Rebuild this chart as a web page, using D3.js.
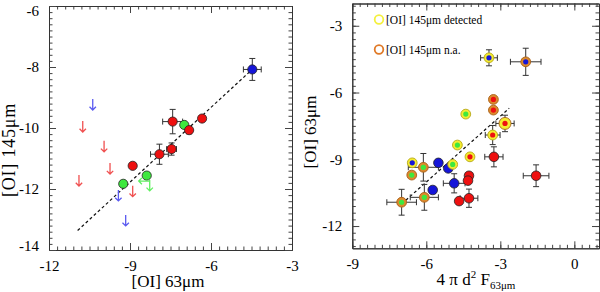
<!DOCTYPE html>
<html>
<head>
<meta charset="utf-8">
<script src="https://cdn.jsdelivr.net/npm/d3@7"></script>
<style>
  body { margin: 0; background: #fff; }
  svg { display: block; font-family: "Liberation Serif", "Times New Roman", serif; }
</style>
</head>
<body>
<svg id="chart" width="600" height="292"></svg>
<script>
// ---- data: left panel ([OI] 145um vs [OI] 63um)
var leftDetections = [
  { x: -9.25, y: -11.83, c: 'green' },
  { x: -8.38, y: -11.56, c: 'green' },
  { x: -6.99, y: -9.90,  c: 'green' },
  { x: -8.90, y: -11.24, c: 'red' },
  { x: -7.91, y: -10.86, ex: 0.33, ey: 0.33, c: 'red' },
  { x: -7.46, y: -10.69, ex: 0.18, ey: 0.20, c: 'red' },
  { x: -7.42, y: -9.79,  ex: 0.37, ey: 0.40, c: 'red' },
  { x: -6.81, y: -10.07, ex: 0,    ey: 0.12, c: 'red' },
  { x: -6.33, y: -9.69,  c: 'red' },
  { x: -4.47, y: -8.08,  ex: 0.33, ey: 0.36, c: 'blue' }
];
// upper limits (arrow top = value)
var leftLimits = [
  { x: -10.38, y: -9.05,  c: 'blue',  dir: 'down' },
  { x: -10.75, y: -9.77,  c: 'red',   dir: 'down' },
  { x: -9.96,  y: -10.42, c: 'red',   dir: 'down' },
  { x: -9.74,  y: -11.15, c: 'red',   dir: 'down' },
  { x: -10.89, y: -11.54, c: 'red',   dir: 'down' },
  { x: -8.90,  y: -11.89, c: 'red',   dir: 'down' },
  { x: -9.43,  y: -12.03, c: 'blue',  dir: 'down' },
  { x: -9.16,  y: -12.85, c: 'blue',  dir: 'down' },
  { x: -8.27,  y: -11.70, c: 'green', dir: 'down' },
  { x: -8.27,  y: -11.74, c: 'green', dir: 'left' }
];
var leftFit = [ { x: -10.94, y: -13.36 }, { x: -4.50, y: -8.10 } ];
var leftXTicks = [-12, -9, -6, -3];
var leftYTicks = [-14, -12, -10, -8, -6];

// ---- data: right panel ([OI] 63um vs 4 pi d^2 F63)
var rightPlain = [
  { x: -3.26, y: -8.89,  ex: 0.37, ey: 0.45, c: 'red' },
  { x: -1.55, y: -9.74,  ex: 0.52, ey: 0.49, c: 'red' },
  { x: -5.11, y: -9.41,  c: 'blue' },
  { x: -5.51, y: -9.16,  c: 'blue' },
  { x: -4.87, y: -10.08, ex: 0.44, ey: 0.43, c: 'blue' },
  { x: -4.27, y: -9.74,  c: 'red' },
  { x: -4.31, y: -9.96,  c: 'red' },
  { x: -5.74, y: -10.38, c: 'blue' },
  { x: -4.67, y: -10.88, c: 'red' },
  { x: -4.27, y: -10.75, ex: 0.36, ey: 0.41, c: 'red' }
];
var rightRinged = [
  { x: -3.46, y: -4.44,  ex: 0.34, ey: 0.36, c: 'blue',  ring: 'det' },
  { x: -1.97, y: -4.62,  ex: 0.62, ey: 0.61, c: 'blue',  ring: 'na' },
  { x: -3.28, y: -6.31,  c: 'red',   ring: 'na' },
  { x: -3.28, y: -6.79,  c: 'red',   ring: 'na' },
  { x: -4.40, y: -6.97,  c: 'green', ring: 'det' },
  { x: -2.81, y: -7.39,  ex: 0.37, ey: 0.37, c: 'red', ring: 'det', big: true },
  { x: -3.31, y: -7.91,  ex: 0.30, ey: 0.43, c: 'red', ring: 'det' },
  { x: -4.74, y: -8.36,  c: 'green', ring: 'det' },
  { x: -4.23, y: -8.89,  c: 'red',   ring: 'det' },
  { x: -4.93, y: -9.23,  c: 'green', ring: 'det' },
  { x: -6.57, y: -9.16,  c: 'blue',  ring: 'det' },
  { x: -6.12, y: -9.36,  ex: 0.61, ey: 0.62, c: 'green', ring: 'na' },
  { x: -6.59, y: -9.71,  c: 'green', ring: 'na' },
  { x: -6.08, y: -10.71, ex: 0.57, ey: 0.58, c: 'green', ring: 'na' },
  { x: -7.00, y: -10.93, ex: 0.60, ey: 0.58, c: 'green', ring: 'na' }
];
var rightFit = [ { x: -6.83, y: -10.84 }, { x: -2.64, y: -6.71 } ];
var rightXTicks = [-9, -6, -3, 0];
var rightYTicks = [-12, -9, -6, -3];
var legendItems = [
  { label: '[OI] 145\u03bcm detected', ring: 'det' },
  { label: '[OI] 145\u03bcm n.a.', ring: 'na' }
];

var fill = { red: '#ee1010', blue: '#1515d8', green: '#3ee83e' };
var limitFill = { red: '#f05050', blue: '#5a5af0', green: '#60f060' };
var ringFill = { det: '#f4ec30', na: '#dc8a2c' };
var ringStroke = { det: '#b8a818', na: '#a86018' };
var legendStroke = { det: '#f4f040', na: '#e07a28' };

var svg = d3.select('#chart');

// IDL-ish frame: inward ticks on all four sides
function frame(g, x, y, xMajor, yMajor, xMinorStep, yMinorStep) {
  var x0 = x.range()[0], x1 = x.range()[1], y0 = y.range()[0], y1 = y.range()[1];
  var xd = x.domain(), yd = y.domain();
  var xMinor = d3.range(Math.ceil(xd[0] / xMinorStep - 1e-6), Math.floor(xd[1] / xMinorStep + 1e-6) + 1)
    .map(function (i) { return +(i * xMinorStep).toFixed(4); });
  var yMinor = d3.range(Math.ceil(yd[0] / yMinorStep - 1e-6), Math.floor(yd[1] / yMinorStep + 1e-6) + 1)
    .map(function (i) { return +(i * yMinorStep).toFixed(4); });

  var ax = [
    { a: d3.axisBottom(x), t: 'translate(0,' + y0 + ')', vals: xMinor, s: -3.5 },
    { a: d3.axisBottom(x), t: 'translate(0,' + y0 + ')', vals: xMajor, s: -7, labels: true },
    { a: d3.axisTop(x), t: 'translate(0,' + y1 + ')', vals: xMinor, s: -3.5 },
    { a: d3.axisTop(x), t: 'translate(0,' + y1 + ')', vals: xMajor, s: -7 },
    { a: d3.axisLeft(y), t: 'translate(' + x0 + ',0)', vals: yMinor, s: -3.5 },
    { a: d3.axisLeft(y), t: 'translate(' + x0 + ',0)', vals: yMajor, s: -7, labels: true, vert: true },
    { a: d3.axisRight(y), t: 'translate(' + x1 + ',0)', vals: yMinor, s: -3.5 },
    { a: d3.axisRight(y), t: 'translate(' + x1 + ',0)', vals: yMajor, s: -7 }
  ];
  ax.forEach(function (d) {
    var axis = d.a.tickValues(d.vals).tickSize(d.s).tickSizeOuter(0)
      .tickFormat(d.labels ? d3.format('d') : '').tickPadding(10);
    var gg = g.append('g').attr('transform', d.t).call(axis);
    gg.select('.domain').attr('stroke', '#333');
    gg.selectAll('.tick line').attr('stroke', '#444').attr('stroke-width', 1);
    gg.selectAll('.tick text').attr('fill', '#000').attr('font-size', 15)
      .attr('font-family', '"Liberation Serif", serif')
      .text(function (v) { return d.labels ? String(v) : ''; });
    if (d.vert) {
      // labels at the frame ends sit a little inside, like the original
      gg.selectAll('.tick text').attr('dy', function (v) {
        if (Math.abs(v - yd[1]) < 1e-6) return '0.62em';
        if (Math.abs(v - yd[0]) < 1e-6) return '0.0em';
        return '0.32em';
      });
    }
  });
}

function errorBars(g, data, x, y) {
  var e = data.filter(function (d) { return d.ex || d.ey; });
  var cap = 3;
  var eg = g.append('g').attr('stroke', '#333').attr('stroke-width', 1).attr('fill', 'none');
  e.forEach(function (d) {
    var cx = x(d.x), cy = y(d.y);
    if (d.ex) {
      var xa = x(d.x - d.ex), xb = x(d.x + d.ex);
      eg.append('line').attr('x1', xa).attr('x2', xb).attr('y1', cy).attr('y2', cy);
      eg.append('line').attr('x1', xa).attr('x2', xa).attr('y1', cy - cap).attr('y2', cy + cap);
      eg.append('line').attr('x1', xb).attr('x2', xb).attr('y1', cy - cap).attr('y2', cy + cap);
    }
    if (d.ey) {
      var ya = y(d.y - d.ey), yb = y(d.y + d.ey);
      eg.append('line').attr('x1', cx).attr('x2', cx).attr('y1', ya).attr('y2', yb);
      eg.append('line').attr('x1', cx - cap).attr('x2', cx + cap).attr('y1', ya).attr('y2', ya);
      eg.append('line').attr('x1', cx - cap).attr('x2', cx + cap).attr('y1', yb).attr('y2', yb);
    }
  });
}

function fitLine(g, pts, x, y) {
  g.append('path')
    .attr('d', d3.line().x(function (d) { return x(d.x); }).y(function (d) { return y(d.y); })(pts))
    .attr('fill', 'none').attr('stroke', '#111').attr('stroke-width', 1.2)
    .attr('stroke-dasharray', '3,2.5');
}

// ================= left panel
var lx = d3.scaleLinear().domain([-12, -3]).range([49, 292]);
var ly = d3.scaleLinear().domain([-14, -6]).range([250, 6]);
var left = svg.append('g');

fitLine(left, leftFit, lx, ly);
errorBars(left, leftDetections, lx, ly);

left.append('g').selectAll('circle').data(leftDetections).join('circle')
  .attr('cx', function (d) { return lx(d.x); })
  .attr('cy', function (d) { return ly(d.y); })
  .attr('r', 4.6)
  .attr('fill', function (d) { return fill[d.c]; })
  .attr('stroke', '#222').attr('stroke-width', 0.8);

var arrowLen = 11, head = 3.2;
left.append('g').selectAll('path').data(leftLimits).join('path')
  .attr('d', function (d) {
    var px = lx(d.x), py = ly(d.y);
    if (d.dir === 'left') {
      var ex = px - arrowLen;
      return 'M' + px + ',' + py + 'H' + ex + 'M' + (ex + head) + ',' + (py - head) +
        'L' + ex + ',' + py + 'L' + (ex + head) + ',' + (py + head);
    }
    var ey = py + arrowLen;
    return 'M' + px + ',' + py + 'V' + ey + 'M' + (px - head) + ',' + (ey - head) +
      'L' + px + ',' + ey + 'L' + (px + head) + ',' + (ey - head);
  })
  .attr('fill', 'none')
  .attr('stroke', function (d) { return limitFill[d.c]; })
  .attr('stroke-width', 1.3);

frame(left, lx, ly, leftXTicks, leftYTicks, 0.3, 0.2);

left.append('text').attr('x', 168).attr('y', 287).attr('text-anchor', 'middle')
  .attr('font-size', 17).text('[OI] 63\u03bcm');
left.append('text').attr('transform', 'translate(15,150) rotate(-90)')
  .attr('text-anchor', 'middle').attr('font-size', 18).attr('letter-spacing', 0.8)
  .text('[OI] 145\u03bcm');

// ================= right panel
var rx = d3.scaleLinear().domain([-9, 1]).range([352.3, 599]);
var ry = d3.scaleLinear().domain([-13, -2]).range([248.3, 3.5]);
var right = svg.append('g');

fitLine(right, rightFit, rx, ry);
errorBars(right, rightPlain.concat(rightRinged), rx, ry);

right.append('g').selectAll('circle').data(rightPlain).join('circle')
  .attr('cx', function (d) { return rx(d.x); })
  .attr('cy', function (d) { return ry(d.y); })
  .attr('r', 4.8)
  .attr('fill', function (d) { return fill[d.c]; })
  .attr('stroke', '#222').attr('stroke-width', 0.8);

var rg = right.append('g').selectAll('g').data(rightRinged).join('g')
  .attr('transform', function (d) { return 'translate(' + rx(d.x) + ',' + ry(d.y) + ')'; });
rg.append('circle').attr('r', function (d) { return d.big ? 6 : 4.9; })
  .attr('fill', function (d) { return ringFill[d.ring]; })
  .attr('stroke', function (d) { return d.big ? ringStroke.na : ringStroke[d.ring]; })
  .attr('stroke-width', 0.9);
rg.append('circle').attr('r', 2.6)
  .attr('fill', function (d) { return fill[d.c]; });

frame(right, rx, ry, rightXTicks, rightYTicks, 0.3, 0.3);

// legend
var lg = right.append('g').selectAll('g').data(legendItems).join('g')
  .attr('transform', function (d, i) { return 'translate(379,' + (19.5 + i * 30) + ')'; });
lg.append('circle').attr('r', 4.3).attr('fill', 'none')
  .attr('stroke', function (d) { return legendStroke[d.ring]; }).attr('stroke-width', 1.8);
lg.append('text').attr('x', 7).attr('y', 4).attr('font-size', 11.5)
  .text(function (d) { return d.label; });

var xt = right.append('text').attr('x', 476).attr('y', 285).attr('text-anchor', 'middle')
  .attr('font-size', 17);
xt.append('tspan').text('4 \u03c0 d');
xt.append('tspan').attr('font-size', 11).attr('dy', -7).text('2');
xt.append('tspan').attr('dy', 7).text(' F');
xt.append('tspan').attr('font-size', 11).attr('dy', 4).text('63\u03bcm');

right.append('text').attr('transform', 'translate(316,132) rotate(-90)')
  .attr('text-anchor', 'middle').attr('font-size', 17).text('[OI] 63\u03bcm');
</script>
</body>
</html>
